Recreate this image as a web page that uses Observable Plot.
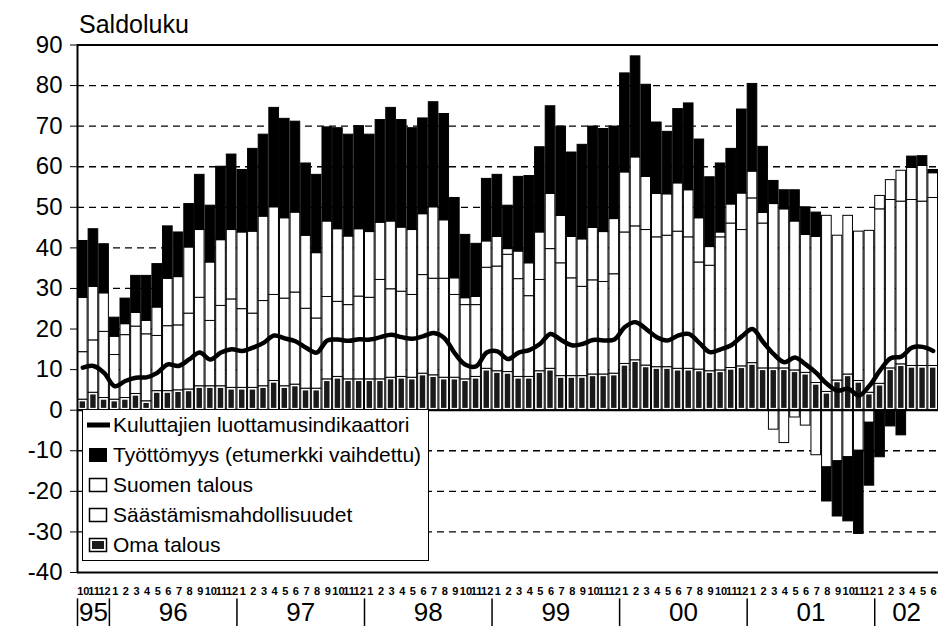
<!DOCTYPE html>
<html><head><meta charset="utf-8">
<script src="https://cdn.jsdelivr.net/npm/d3@7"></script>
<script src="https://cdn.jsdelivr.net/npm/@observablehq/plot@0.6"></script>
<style>
body{margin:0;background:#fff;font-family:"Liberation Sans",Arial,sans-serif;}
#wrap{position:relative;width:941px;height:626px;overflow:hidden;}
#title{position:absolute;left:79px;top:12px;font-size:25px;line-height:25px;color:#000;}
#legend{position:absolute;left:82px;top:409px;width:345px;height:150px;border:1.5px solid #000;background:#fff;}
.row{height:30px;display:flex;align-items:center;font-size:21px;white-space:nowrap;color:#000;}
.row svg{margin-left:4px;margin-right:3px;flex:none;}
</style></head><body>
<div id="wrap"><div id="chart"></div><div id="title">Saldoluku</div><div id="legend"></div></div>
<script>
// Months 10/1995 .. 6/2002
const monthLabels = ["10","11","12",
 "1","2","3","4","5","6","7","8","9","10","11","12",
 "1","2","3","4","5","6","7","8","9","10","11","12",
 "1","2","3","4","5","6","7","8","9","10","11","12",
 "1","2","3","4","5","6","7","8","9","10","11","12",
 "1","2","3","4","5","6","7","8","9","10","11","12",
 "1","2","3","4","5","6","7","8","9","10","11","12",
 "1","2","3","4","5","6"];
const yearLabels = ["95","96","97","98","99","00","01","02"];
const yearStart = [0,3,15,27,39,51,63,75];
const yearEnd = [3,15,27,39,51,63,75,81];

const omaTalous = [2.6,4.3,3.0,2.6,3.0,4.0,2.2,4.7,4.7,4.9, 5.1,5.9,5.9,5.9,5.5,5.5,5.5,5.9,7.2,5.9,
 6.3,5.3,5.3,7.6,8.2,7.6,7.6,7.6,7.6,8.0, 8.2,8.0,9.0,8.6,8.0,8.0,7.6,8.2,10.2,9.6,
 9.4,8.2,8.2,9.6,10.2,8.4,8.4,8.4,8.8,8.8, 9.0,11.4,12.3,11.0,10.6,10.6,10.2,10.2,10.0,9.6,
 9.8,10.4,10.8,11.6,10.3,10.3,10.3,9.8,9.2,6.7, 4.5,7.3,8.8,7.2,4.3,6.5,10.3,11.3,10.9,10.9, 10.9];
const saastamis = [11.7,12.9,16.3,11.0,15.5,16.6,16.5,13.6,16.0,16.0, 18.7,21.8,16.1,19.8,21.8,19.4,18.3,21.0,21.2,21.6,
 22.7,19.7,17.3,20.3,18.5,18.3,20.4,20.1,24.5,21.8, 21.0,20.4,24.3,23.8,24.4,20.4,18.3,17.7,24.9,25.8,
 28.9,24.1,19.9,22.5,29.5,27.8,24.1,22.0,23.2,22.8, 24.5,32.4,33.0,33.4,32.0,32.4,33.8,32.4,26.4,26.0,
 32.8,35.6,33.6,40.6,35.7,40.5,39.2,36.7,34.0,36.0, 43.4,35.7,39.1,36.8,39.9,43.0,41.5,40.1,40.9,40.5, 41.4];
const suomenTalous = [13.4,13.2,9.5,4.5,2.7,3.4,3.3,7.0,11.7,11.9, 16.3,16.7,14.4,16.2,17.1,18.9,20.2,20.8,21.6,19.8,
 19.7,18.0,16.1,18.6,17.9,16.9,16.6,16.2,14.1,16.7, 15.8,16.0,15.0,17.6,14.4,4.1,1.7,2.0,6.5,7.3,
 1.4,6.8,8.1,11.7,13.6,11.7,10.2,11.7,12.9,12.3, 13.6,14.8,17.0,13.1,10.7,10.2,11.9,11.6,10.9,4.6,
 1.2,4.7,9.0,6.6,2.6,-4.8,-8.1,-1.8,-3.8,-11.1, -14.1,-12.6,-11.6,-10.0,-3.1,3.3,4.9,7.6,7.9,8.8, 6.1];
const tyottomyys = [14.0,14.2,12.1,4.7,6.3,9.1,11.1,10.7,12.9,11.0, 10.7,13.6,14.0,18.1,18.6,15.4,20.4,20.2,24.5,24.5,
 22.4,17.8,19.3,23.2,24.9,25.1,25.4,24.0,25.3,28.0, 26.5,25.1,23.6,25.9,26.2,19.8,15.6,13.1,15.4,15.3,
 10.7,18.4,21.5,21.0,21.6,22.0,20.8,23.3,25.0,25.4, 22.8,24.4,24.9,22.7,17.6,15.4,18.3,21.4,19.4,17.2,
 17.0,13.7,20.7,21.6,16.3,5.7,4.7,7.7,6.8,6.0, -8.4,-13.6,-15.8,-20.5,-15.5,-11.6,-4.0,-6.2,2.8,2.4, 0.8];
const indikaattori = [10.5,10.9,9.2,5.9,7.2,8.0,8.1,9.2,11.3,10.9, 12.5,14.2,12.5,14.2,15.0,14.6,15.4,16.6,18.4,17.7,
 17.0,15.4,14.2,17.2,17.4,17.1,17.5,17.4,18.0,18.6, 18.0,17.6,18.2,19.0,17.8,14.0,11.2,10.8,14.2,14.5,
 12.6,14.2,14.8,16.3,18.8,17.3,16.0,16.3,17.3,17.2, 17.4,20.5,21.7,20.0,18.0,17.2,18.4,18.8,16.6,14.3,
 15.0,16.0,18.2,20.0,16.8,13.8,11.8,13.0,11.3,9.2, 6.5,4.8,5.3,3.6,6.0,9.8,12.8,13.2,15.4,15.6, 14.6];

const yTicks = [90,80,70,60,50,40,30,20,10,0,-10,-20,-30,-40];
const gridVals = [80,70,60,50,40,30,20,10,-10,-20,-30];

const seriesDefs = [
  {name: "Oma talous", values: omaTalous, fill: "#fff"},
  {name: "Säästämismahdollisuudet", values: saastamis, fill: "#fff"},
  {name: "Suomen talous", values: suomenTalous, fill: "#fff"},
  {name: "Työttömyys (etumerkki vaihdettu)", values: tyottomyys, fill: "#000"}
];
const stackRows = seriesDefs.flatMap(s => s.values.map((v, i) => ({i, value: v, series: s.name, fill: s.fill})));
const omaRows = omaTalous.map((v, i) => ({i, value: v}));
const lineRows = indikaattori.map((v, i) => ({xc: i + 0.5, value: v}));
const monthRows = monthLabels.map((m, i) => ({xc: i + 0.5, label: m}));
const yearRows = yearLabels.map((y, k) => ({xc: (yearStart[k] + yearEnd[k]) / 2, label: y}));

const chart = Plot.plot({
  width: 941, height: 626,
  marginLeft: 77, marginRight: 3, marginTop: 44.5, marginBottom: 54,
  style: {fontFamily: '"Liberation Sans", Arial, sans-serif', fontSize: "24px", color: "#000", background: "transparent", overflow: "visible"},
  x: {type: "linear", domain: [0, 81], axis: null},
  y: {domain: [-40, 90], ticks: yTicks, tickSize: 7, tickPadding: 8, tickFormat: d => String(d), label: null},
  color: {type: "identity"},
  marks: [
    Plot.ruleY(gridVals, {stroke: "#000", strokeWidth: 1.3, strokeDasharray: "7,5"}),
    Plot.rectY(stackRows, {x: "i", interval: 1, y: "value", z: "series", fill: "fill", stroke: "#000", strokeWidth: 1, insetLeft: 0.5, insetRight: 0.5}),
    Plot.rectY(omaRows, {x: "i", interval: 1, y: "value", fill: "#1a1a1a", insetLeft: 2.6, insetRight: 2.6, insetTop: 2.2, insetBottom: 1.8}),
    Plot.ruleY([0], {stroke: "#000", strokeWidth: 2}),
    Plot.ruleY([90, -40], {stroke: "#000", strokeWidth: 2}),
    Plot.ruleX([0], {stroke: "#000", strokeWidth: 2}),
    Plot.line(lineRows, {x: "xc", y: "value", curve: "catmull-rom", stroke: "#000", strokeWidth: 4.5}),
    Plot.text(monthRows, {x: "xc", text: "label", frameAnchor: "bottom", lineAnchor: "middle", dy: 19, dx: 0.5, fontSize: 11, fontWeight: "bold", letterSpacing: "-1.3px"}),
    Plot.text(yearRows, {x: "xc", text: "label", frameAnchor: "bottom", lineAnchor: "middle", dy: 40, fontSize: 26}),
    Plot.ruleX(yearStart, {x: d => d, y1: -46.5, y2: -54, stroke: "#000", strokeWidth: 1.5})
  ]
});
document.getElementById("chart").appendChild(chart);

// legend
const legendItems = [
  {label: "Kuluttajien luottamusindikaattori", kind: "line"},
  {label: "Työttömyys (etumerkki vaihdettu)", kind: "black"},
  {label: "Suomen talous", kind: "white"},
  {label: "Säästämismahdollisuudet", kind: "white"},
  {label: "Oma talous", kind: "pattern"}
];
const leg = document.getElementById("legend");
for (const it of legendItems) {
  let sym;
  if (it.kind === "line") sym = '<line x1="0" y1="10" x2="23" y2="10" stroke="#000" stroke-width="5"/>';
  else if (it.kind === "black") sym = '<rect x="2.5" y="3.5" width="17" height="13" fill="#000" stroke="#000"/>';
  else if (it.kind === "white") sym = '<rect x="2.5" y="3.5" width="17" height="13" fill="#fff" stroke="#000" stroke-width="1.5"/>';
  else sym = '<rect x="2.5" y="3.5" width="17" height="13" fill="#fff" stroke="#000" stroke-width="1.5"/><rect x="5" y="6" width="12" height="8" fill="#1a1a1a"/>';
  const row = document.createElement("div");
  row.className = "row";
  row.innerHTML = '<svg width="23" height="20">' + sym + '</svg><span>' + it.label + '</span>';
  leg.appendChild(row);
}
</script>
</body></html>
